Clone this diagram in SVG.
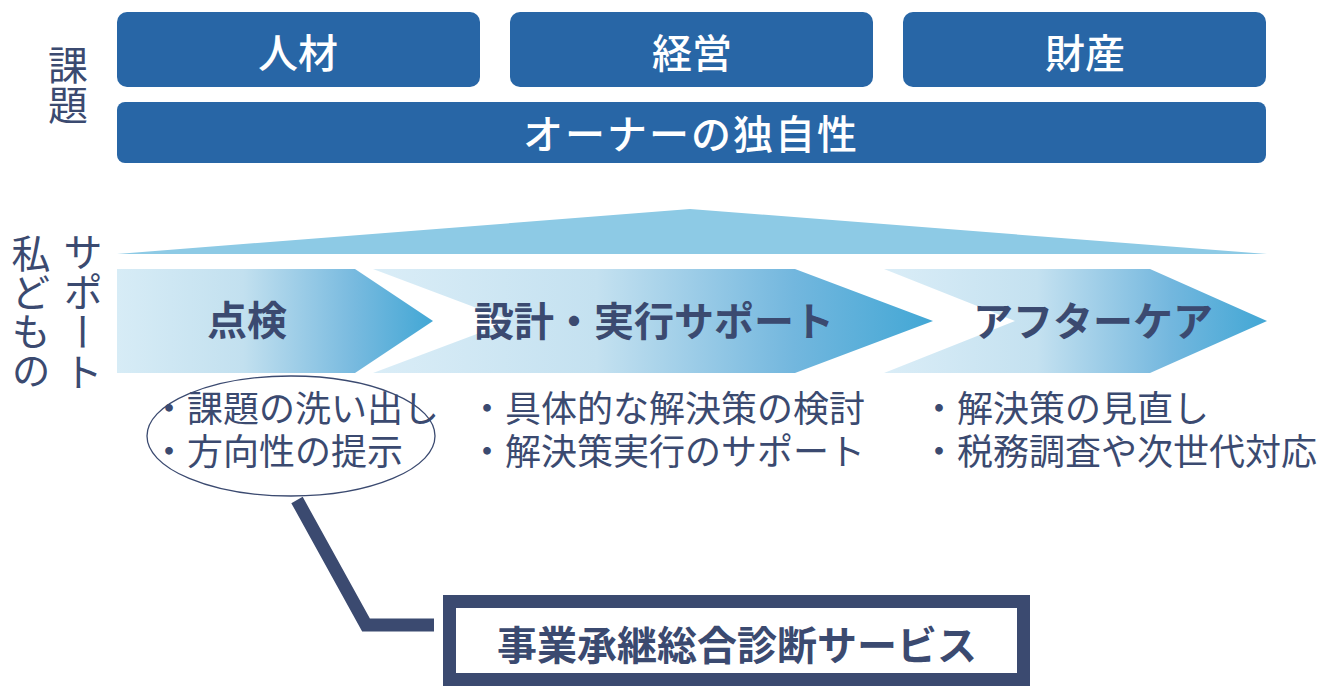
<svg xmlns="http://www.w3.org/2000/svg" width="1328" height="686" viewBox="0 0 1328 686">
<defs>
<linearGradient id="g1" x1="117" y1="0" x2="433" y2="0" gradientUnits="userSpaceOnUse">
<stop offset="0" stop-color="#D7ECF6"/><stop offset="0.4" stop-color="#C2E0EF"/><stop offset="0.75" stop-color="#78BADF"/><stop offset="1" stop-color="#42A7D5"/>
</linearGradient>
<linearGradient id="g2" x1="373" y1="0" x2="933" y2="0" gradientUnits="userSpaceOnUse">
<stop offset="0" stop-color="#DAEDF7"/><stop offset="0.4" stop-color="#C4E1F0"/><stop offset="0.75" stop-color="#73B7DE"/><stop offset="1" stop-color="#42A7D5"/>
</linearGradient>
<linearGradient id="g3" x1="884" y1="0" x2="1267" y2="0" gradientUnits="userSpaceOnUse">
<stop offset="0" stop-color="#DAEDF7"/><stop offset="0.4" stop-color="#C4E1F0"/><stop offset="0.75" stop-color="#73B7DE"/><stop offset="1" stop-color="#42A7D5"/>
</linearGradient>
<style>
.top{fill:#2866A6}
.wt{fill:#FFFFFF;font-family:"Noto Sans CJK JP","Noto Sans",sans-serif;font-size:40px;font-weight:500;text-anchor:middle}
.ch{fill:#3B4A70;font-family:"Noto Sans CJK JP","Noto Sans",sans-serif;font-size:40px;font-weight:700;text-anchor:middle}
.bl{fill:#3B4A70;font-family:"Noto Sans CJK JP","Noto Sans",sans-serif;font-size:36px;font-weight:400}
.vt{fill:#3B4A70;font-family:"Noto Sans CJK JP","Noto Sans",sans-serif;font-weight:400;writing-mode:vertical-rl}
.cn{fill:none;stroke:#3B4A70;stroke-width:13;stroke-linejoin:miter}
</style>
</defs>
<rect width="1328" height="686" fill="#FFFFFF"/>

<g id="label-kadai"><text class="vt" x="68" y="45" font-size="40">課題</text></g>
<g id="label-support"><text class="vt" x="83" y="232" font-size="40">サポート</text></g>
<g id="label-watashidomo"><text class="vt" x="31" y="234" font-size="39">私どもの</text></g>

<g id="node-jinzai"><rect class="top" x="117" y="12" width="363" height="75" rx="10"/><text class="wt" x="298" y="68">人材</text></g>
<g id="node-keiei"><rect class="top" x="510" y="12" width="363" height="75" rx="10"/><text class="wt" x="692" y="68">経営</text></g>
<g id="node-zaisan"><rect class="top" x="903" y="12" width="363" height="75" rx="10"/><text class="wt" x="1085" y="68">財産</text></g>
<g id="node-owner"><rect class="top" x="117" y="102" width="1149" height="61" rx="8"/><text class="wt" x="691" y="149" letter-spacing="2">オーナーの独自性</text></g>

<g id="band"><polygon points="117,254 690,209 1267,254" fill="#8DCAE5"/></g>

<g id="node-tenken"><polygon points="117,269 355,269 433,321 355,373 117,373" fill="url(#g1)"/><text class="ch" x="247" y="335">点検</text></g>
<g id="node-sekkei"><polygon points="373,269 795,269 933,321 795,373 373,373 511,321" fill="url(#g2)"/><text class="ch" x="654" y="336">設計・実行サポート</text></g>
<g id="node-aftercare"><polygon points="884,269 1150,269 1267,321 1150,373 884,373 1015,321" fill="url(#g3)"/><text class="ch" x="1093" y="336">アフターケア</text></g>

<g id="list-tenken">
<ellipse cx="291" cy="436" rx="144" ry="60" fill="none" stroke="#3B4A70" stroke-width="1.3"/>
<text class="bl"><tspan x="151" y="422">・課題の洗い出し</tspan><tspan x="151" y="465">・方向性の提示</tspan></text>
</g>
<g id="list-sekkei">
<text class="bl"><tspan x="469" y="422">・具体的な解決策の検討</tspan><tspan x="469" y="465">・解決策実行のサポート</tspan></text>
</g>
<g id="list-aftercare">
<text class="bl"><tspan x="921" y="422">・解決策の見直し</tspan><tspan x="921" y="465">・税務調査や次世代対応</tspan></text>
</g>

<g id="connectors">
<polyline class="cn" points="297,500 366,625 434,625"/>
</g>

<g id="node-service">
<rect x="449.5" y="601.5" width="574" height="78" fill="#FFFFFF" stroke="#3B4A70" stroke-width="13"/>
<text class="ch" x="737" y="660" font-size="44" font-weight="500">事業承継総合診断サービス</text>
</g>
</svg>
